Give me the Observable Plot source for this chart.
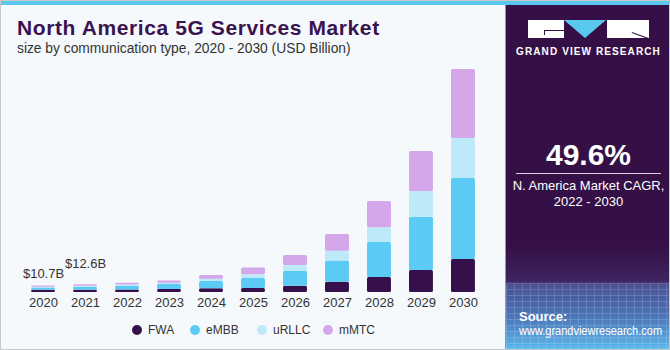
<!DOCTYPE html>
<html>
<head>
<meta charset="utf-8">
<script src="https://cdn.jsdelivr.net/npm/d3@7"></script>
<script src="https://cdn.jsdelivr.net/npm/@observablehq/plot@0.6"></script>
<style>
  html, body { margin: 0; padding: 0; background: #ffffff; }
  #frame { position: relative; width: 670px; height: 350px; overflow: hidden;
    background: #f5f9fc; font-family: "Liberation Sans", Arial, sans-serif; }
  #border { position: absolute; left: 0; top: 0; width: 670px; height: 350px; box-sizing: border-box;
    border: 1px solid #c8c8c8; pointer-events: none; }
  #topbar { position: absolute; left: 0; top: 0; width: 670px; height: 5px; background: #5bc8f0; }
  #title { position: absolute; left: 17px; top: 16px; font-size: 21px; font-weight: bold; color: #3a1350; letter-spacing: 0.6px; white-space: nowrap; }
  #subtitle { position: absolute; left: 17px; top: 41px; font-size: 13.8px; color: #333; white-space: nowrap; }
  #chart { position: absolute; left: 0; top: 55px; }
  #legend { position: absolute; left: 0; top: 322px; width: 500px; height: 16px; font-size: 12px; color: #333; }
  #legend .item { position: absolute; top: 0; display: flex; align-items: center; height: 16px; }
  #legend .dot { width: 10px; height: 10px; border-radius: 50%; margin-right: 6px; }
  #panel { position: absolute; left: 505px; top: 5px; width: 165px; height: 345px;
    background: linear-gradient(to bottom, #351046 0px, #351046 240px, #3e2460 276px, #4a5294 280px, #4a72b6 310px, #58aee6 340px, #62c8f2 345px);
    border-left: 1px solid #9a8fb0; }
  #grid { position: absolute; left: 0; top: 278px; width: 165px; height: 67px; opacity: 0.16;
    background-image: repeating-linear-gradient(to right, #ffffff 0px, #ffffff 1px, transparent 1px, transparent 8px),
                      repeating-linear-gradient(to bottom, #ffffff 0px, #ffffff 1px, transparent 1px, transparent 6px); }
  #panel .txt { position: absolute; color: #fff; white-space: nowrap; }
  .box { position: absolute; background: #ffffff; }
  .ln { position: absolute; background: #351046; }
</style>
</head>
<body>
<div id="frame">
  <div id="topbar"></div>
  <div id="title">North America 5G Services Market</div>
  <div id="subtitle">size by communication type, 2020 - 2030 (USD Billion)</div>
  <div id="chart"></div>
  <div id="legend"></div>
  <div id="panel">
    <div id="grid"></div>
    <div class="box" style="left:22px;top:15px;width:36px;height:18px;"></div>
    <div class="ln" style="left:38px;top:25px;width:20px;height:1px;"></div>
    <div class="ln" style="left:38px;top:25px;width:1px;height:5px;"></div>
    <div style="position:absolute;left:58px;top:15px;width:0;height:0;border-left:21.5px solid transparent;border-right:21.5px solid transparent;border-top:18px solid #5bc8f0;"></div>
    <div class="box" style="left:101px;top:15px;width:42px;height:18px;"></div>
    <div class="ln" style="left:126px;top:27px;width:17px;height:1px;transform:rotate(20deg);transform-origin:0 0;"></div>
    <div class="txt" style="left:0;width:165px;text-align:center;top:41px;font-size:10px;font-weight:bold;letter-spacing:1.1px;">GRAND VIEW RESEARCH</div>
    <div class="txt" style="left:0;width:165px;text-align:center;top:133px;font-size:30px;font-weight:bold;">49.6%</div>
    <div style="position:absolute;left:10px;top:168px;width:145px;height:1px;background:#d8d0e0;"></div>
    <div class="txt" style="left:0;width:165px;text-align:center;top:173px;font-size:13px;line-height:16px;">N. America Market CAGR,<br>2022 - 2030</div>
    <div class="txt" style="left:13px;top:304px;font-size:13px;font-weight:bold;">Source:</div>
    <div class="txt" style="left:13px;top:319px;font-size:12.5px;transform:scaleX(0.88);transform-origin:0 0;">www.grandviewresearch.com</div>
  </div>
  <div id="border"></div>
</div>
<script>
const years = ["2020","2021","2022","2023","2024","2025","2026","2027","2028","2029","2030"];
const types = ["FWA","eMBB","uRLLC","mMTC"];
const fwa   = [3.5, 3.9, 4.3, 4.8, 6.0, 6.6, 10.4, 17.0, 24.7, 36.2, 54.3];
const embb  = [4.0, 4.7, 6.0, 8.2, 12.0, 16.5, 24.7, 35.0, 57.6, 87.7, 133.3];
const urllc = [1.3, 1.6, 2.0, 2.4, 4.0, 6.1, 9.4, 16.0, 24.2, 42.3, 65.8];
const mmtc  = [1.9, 2.4, 3.0, 3.6, 6.0, 11.0, 16.5, 27.5, 43.3, 65.8, 113.6];
const colors = ["#35104a", "#5bcbf5", "#bde9f9", "#d4a6ea"];
const labelYears = ["2020", "2021"];
const labelTexts = ["$10.7B", "$12.6B"];

const series = [fwa, embb, urllc, mmtc];
const rows = [];
types.forEach((t, i) => years.forEach((y, j) => rows.push({year: y, type: t, value: series[i][j]})));
const totals = years.map((y, j) => series.reduce((s, arr) => s + arr[j], 0));
const lab = labelYears.map((y, k) => ({year: y, total: totals[years.indexOf(y)], text: labelTexts[k]}));

const chart = Plot.plot({
  width: 500,
  height: 260,
  marginLeft: 13,
  marginRight: 7,
  marginTop: 6,
  marginBottom: 23,
  style: {background: "transparent", fontFamily: "Liberation Sans, Arial, sans-serif", fontSize: "13px", color: "#333", overflow: "visible"},
  x: {domain: years, padding: 0.43, round: false, label: null},
  y: {domain: [0, 380], axis: null},
  color: {domain: types, range: colors},
  marks: [
    Plot.barY(rows, {x: "year", y: "value", fill: "type", rx: 1.5}),
    Plot.axisX({tickSize: 0, tickPadding: 5, fontSize: 13, fill: "#333"}),
    Plot.text(lab.slice(0, 1), {x: "year", y: "total", text: "text", dy: -12, fontSize: 13, fill: "#333"}),
    Plot.text(lab.slice(1, 2), {x: "year", y: "total", text: "text", dy: -21, fontSize: 13, fill: "#333"})
  ]
});
document.getElementById("chart").appendChild(chart);

const legendLefts = [132, 190, 257, 323];
const legend = document.getElementById("legend");
types.forEach((t, i) => {
  const it = document.createElement("div");
  it.className = "item";
  it.style.left = legendLefts[i] + "px";
  it.innerHTML = `<span class="dot" style="background:${colors[i]}"></span><span>${t}</span>`;
  legend.appendChild(it);
});
</script>
</body>
</html>
